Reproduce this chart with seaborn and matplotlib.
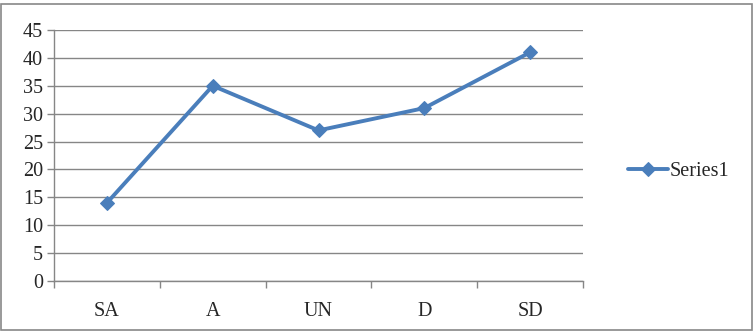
import numpy as np
import pandas as pd
import matplotlib
matplotlib.use('Agg')
import matplotlib.pyplot as plt
import seaborn as sns
from matplotlib.patches import Rectangle

# data
categories = ['SA', 'A', 'UN', 'D', 'SD']
values = [14, 35, 27, 31, 41]
series_name = 'Series1'

df = pd.DataFrame({'cat': categories, 'val': values, 'series': series_name})

sns.set_style('white')
plt.rcParams['font.family'] = ['Liberation Serif', 'DejaVu Serif']

fig = plt.figure(figsize=(7.56, 3.32), dpi=100)
ax = fig.add_axes([54 / 756, 51 / 332, 529 / 756, 251 / 332])

blue = '#4A7EBB'
grid_c = '#868686'

sns.lineplot(data=df, x='cat', y='val', hue='series', palette=[blue],
             marker='D', markersize=7.5, linewidth=2.8, markeredgecolor=blue,
             sort=False, ax=ax)

ax.set_xlim(-0.5, len(categories) - 0.5)
ax.set_ylim(0, 45)
ax.set_yticks(np.arange(0, 46, 5))
ax.set_xticks(range(len(categories)))
ax.set_xticks(np.arange(-0.5, len(categories), 1), minor=True)
ax.set_xticklabels(categories)
ax.set_xlabel('')
ax.set_ylabel('')

ax.yaxis.grid(True, color=grid_c, linewidth=1)
ax.xaxis.grid(False)
ax.set_axisbelow(True)
for s in ['top', 'right']:
    ax.spines[s].set_visible(False)
for s in ['left', 'bottom']:
    ax.spines[s].set_color(grid_c)
    ax.spines[s].set_linewidth(1)

ax.tick_params(axis='y', which='major', length=5, color=grid_c, width=1,
               labelsize=14.5, pad=3, left=True)
ax.tick_params(axis='x', which='major', length=0, labelsize=14.5, pad=15)
ax.tick_params(axis='x', which='minor', length=5, color=grid_c, width=1, bottom=True)

leg = ax.legend(loc='center left', bbox_to_anchor=(1.05, 0.435), frameon=False,
                fontsize=14.5, handlelength=2.0, handletextpad=0.1)
for t in leg.get_texts():
    t.set_text(series_name)

fig.patches.append(Rectangle((1 / 756, 2 / 332), 751 / 756, 326 / 332,
                             transform=fig.transFigure, fill=False,
                             edgecolor='#888888', linewidth=1.2))

fig.savefig('out.png', dpi=100)
